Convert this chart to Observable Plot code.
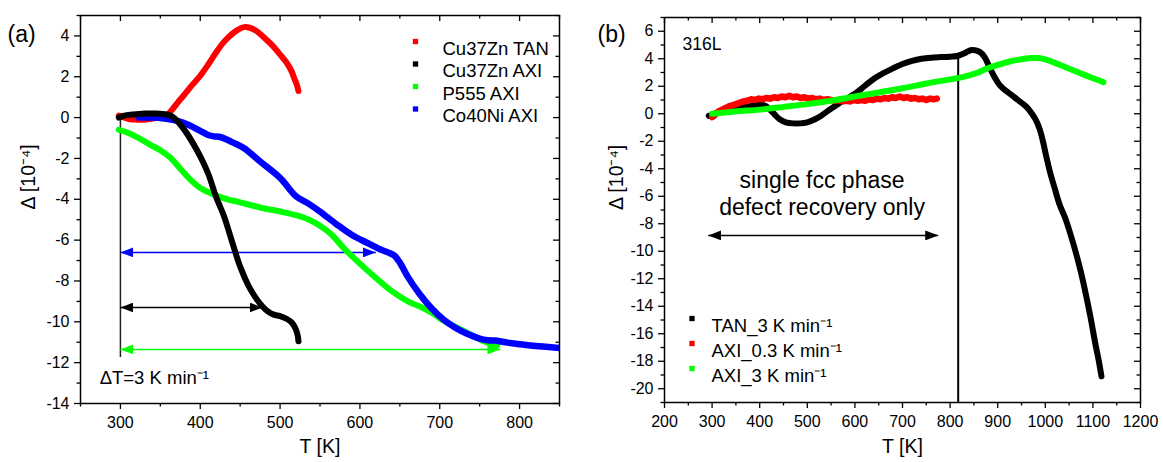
<!DOCTYPE html>
<html><head><meta charset="utf-8">
<script src="https://cdn.jsdelivr.net/npm/d3@7"></script>
<script src="https://cdn.jsdelivr.net/npm/@observablehq/plot@0.6"></script>
<style>
html,body{margin:0;padding:0;background:#fff;}
#wrap{display:flex;width:1163px;height:462px;overflow:hidden;}
#wrap svg{display:block;}
</style></head>
<body><div id="wrap"></div>
<script>
// ---------------- Panel (a) data ----------------
const aRedT = [298, 305, 312, 320, 330, 340, 350, 358, 365, 372, 380, 390, 400, 410, 420, 430, 440, 448, 455, 462, 470, 480, 490, 500, 508, 514, 518, 521, 523];
const aRedV = [0.1, 0.0, -0.08, -0.1, -0.1, -0.05, 0.02, 0.12, 0.4, 0.75, 1.12, 1.6, 2.05, 2.6, 3.2, 3.72, 4.1, 4.32, 4.43, 4.4, 4.25, 3.92, 3.55, 3.08, 2.7, 2.3, 1.9, 1.6, 1.3];

const aBlkT = [298, 305, 315, 330, 345, 358, 365, 372, 380, 390, 400, 410, 420, 430, 440, 450, 460, 470, 478, 485, 492, 500, 508, 515, 519, 522, 523];
const aBlkV = [0.0, 0.1, 0.15, 0.2, 0.2, 0.15, 0.05, -0.2, -0.6, -1.2, -1.9, -2.75, -3.9, -4.85, -6.1, -7.3, -8.2, -8.85, -9.25, -9.5, -9.65, -9.72, -9.85, -10.05, -10.3, -10.65, -10.95];
// faint second run of Cu37Zn AXI (thin line)
const aBlk2T = [362, 370, 378, 386, 395, 404, 413, 420];
const aBlk2V = [0.15, 0.0, -0.3, -0.7, -1.3, -2.0, -2.9, -3.7];

const aGrnT = [298, 310, 322, 337, 350, 363, 375, 388, 400, 413, 430, 450, 475, 500, 520, 535, 550, 565, 580, 600, 620, 640, 660, 675, 690, 705, 720, 735, 750, 762, 772];
const aGrnV = [-0.6, -0.75, -0.98, -1.32, -1.6, -1.98, -2.5, -3.05, -3.45, -3.7, -3.95, -4.15, -4.4, -4.6, -4.78, -4.98, -5.3, -5.75, -6.4, -7.15, -7.85, -8.5, -9.0, -9.25, -9.55, -9.95, -10.25, -10.55, -10.85, -11.05, -11.15];

const aBluT = [323, 340, 355, 370, 385, 400, 410, 417, 425, 440, 455, 475, 500, 520, 535, 550, 570, 590, 610, 625, 635, 643, 650, 660, 675, 690, 705, 720, 735, 750, 760, 770, 785, 800, 820, 850];
const aBluV = [0.0, 0.0, -0.05, -0.15, -0.35, -0.65, -0.85, -0.92, -0.95, -1.2, -1.5, -2.15, -2.95, -3.85, -4.2, -4.6, -5.2, -5.75, -6.15, -6.45, -6.6, -6.75, -7.1, -7.8, -8.65, -9.35, -9.9, -10.3, -10.6, -10.82, -10.9, -10.92, -11.02, -11.1, -11.18, -11.28];

const aLegend = ["Cu37Zn TAN", "Cu37Zn AXI", "P555 AXI", "Co40Ni AXI"];
const aArrows = [
  {x1: 300, x2: 620, y: -6.6, color: "#0000ff"},
  {x1: 300, x2: 478, y: -9.3, color: "#000000"},
  {x1: 300, x2: 776, y: -11.35, color: "#00ff00"}
];
const aVLine = [{T: 300, top: 0.15, bottom: -11.75}];
const aNotes = [{T: 274, V: -12.75, text: "\u0394T=3 K min\u207B\u00B9"}];
const aXMajor = [300, 400, 500, 600, 700, 800];
const aXMinor = [250, 350, 450, 550, 650, 750, 850];
const aYMajor = [4, 2, 0, -2, -4, -6, -8, -10, -12, -14];
const aYMinor = [5, 3, 1, -1, -3, -5, -7, -9, -11, -13];

// ---------------- Panel (b) data ----------------
const bBlkT = [293, 305, 320, 340, 360, 380, 395, 405, 413, 420, 430, 442, 455, 470, 485, 500, 515, 530, 545, 560, 580, 600, 620, 640, 660, 680, 700, 720, 740, 760, 780, 800, 815, 830, 843, 852, 862, 872, 882, 892, 905, 920, 935, 950, 962, 972, 980, 988, 995, 1002, 1010, 1020, 1030, 1042, 1055, 1065, 1075, 1085, 1095, 1105, 1112, 1118];
const bBlkV = [-0.15, 0.0, 0.2, 0.35, 0.45, 0.55, 0.65, 0.65, 0.55, 0.35, 0.0, -0.4, -0.62, -0.7, -0.7, -0.62, -0.42, -0.12, 0.25, 0.6, 1.05, 1.45, 2.0, 2.55, 2.95, 3.3, 3.62, 3.85, 4.0, 4.08, 4.12, 4.15, 4.2, 4.4, 4.62, 4.62, 4.5, 4.15, 3.45, 2.75, 2.05, 1.6, 1.2, 0.8, 0.45, 0.0, -0.45, -1.1, -2.0, -3.1, -4.25, -5.45, -6.6, -7.6, -9.0, -10.2, -11.55, -13.1, -14.8, -16.7, -17.9, -19.1];

const bRedT = [300, 304, 308, 313, 318, 324, 330, 336, 342, 350, 358, 366, 374, 382, 390, 398, 406, 414, 422, 430, 438, 446, 454, 462, 470, 478, 486, 494, 502, 510, 518, 526, 534, 542, 550, 558, 566, 574, 582, 590, 598, 606, 614, 622, 630, 638, 646, 654, 662, 670, 678, 686, 694, 702, 710, 718, 726, 734, 742, 750, 758, 766, 772];
const bRedV = [-0.25, -0.15, 0.0, 0.15, 0.25, 0.35, 0.45, 0.55, 0.6, 0.7, 0.8, 0.9, 0.95, 1.05, 1.0, 1.1, 1.05, 1.15, 1.1, 1.2, 1.15, 1.25, 1.2, 1.3, 1.2, 1.25, 1.15, 1.2, 1.1, 1.15, 1.05, 1.1, 1.0, 1.05, 1.0, 0.95, 1.0, 0.9, 0.95, 0.9, 1.0, 0.95, 1.0, 0.95, 1.05, 1.0, 1.1, 1.05, 1.15, 1.1, 1.2, 1.15, 1.25, 1.15, 1.2, 1.1, 1.15, 1.05, 1.1, 1.0, 1.1, 1.05, 1.1];

const bGrnT = [300, 330, 360, 400, 450, 500, 550, 600, 650, 700, 750, 800, 830, 855, 875, 900, 925, 950, 970, 985, 1000, 1020, 1045, 1070, 1095, 1122];
const bGrnV = [0.0, 0.1, 0.2, 0.3, 0.5, 0.7, 0.95, 1.25, 1.55, 1.85, 2.2, 2.5, 2.7, 2.95, 3.25, 3.55, 3.8, 3.97, 4.05, 4.05, 3.95, 3.7, 3.35, 3.0, 2.65, 2.3];

const bLegend = ["TAN_3 K min\u207B\u00B9", "AXI_0.3 K min\u207B\u00B9", "AXI_3 K min\u207B\u00B9"];
const bArrows = [{x1: 292, x2: 775, y: -8.85, color: "#000000"}];
const bVLine = [{T: 817, top: 4.22, bottom: -21}];
const bNotes = [
  {T: 531, V: -4.86, text: "single fcc phase"},
  {T: 531, V: -6.8, text: "defect recovery only"}
];
const bLabel = [{T: 238, V: 5.08, text: "316L"}];
const bXMajor = [200, 300, 400, 500, 600, 700, 800, 900, 1000, 1100, 1200];
const bXMinor = [250, 350, 450, 550, 650, 750, 850, 950, 1050, 1150];
const bYMajor = [6, 4, 2, 0, -2, -4, -6, -8, -10, -12, -14, -16, -18, -20];
const bYMinor = [7, 5, 3, 1, -1, -3, -5, -7, -9, -11, -13, -15, -17, -19, -21];

// ---------------- helpers ----------------
const FONT = '"Liberation Sans", Arial, Helvetica, sans-serif';
const RED = "#ff0000", BLACK = "#000000", GREEN = "#00ff00", BLUE = "#0000ff";
const rows = (T, V) => T.map((t, i) => ({T: t, V: V[i]}));

function filledHead(color) {
  const m = d3.create("svg:marker")
    .attr("viewBox", "-13 -5 13 10")
    .attr("markerWidth", 13).attr("markerHeight", 10)
    .attr("markerUnits", "userSpaceOnUse")
    .attr("orient", "auto-start-reverse")
    .attr("fill", color).attr("stroke", "none");
  m.append("path").attr("d", "M0,0L-13,-5L-13,5Z");
  return m.node();
}

function frameMarks(cfg) {
  const fw = cfg.width - cfg.mL - cfg.mR, fh = cfg.height - cfg.mT - cfg.mB;
  const tk = {stroke: "#000", strokeWidth: 1.3};
  return [
    Plot.axisX({ticks: cfg.xMajor, tickSize: 6, tickPadding: 7, tickFormat: d => String(d), label: null, fontSize: 16, strokeWidth: 1.3}),
    Plot.axisX({ticks: cfg.xMinor, tickSize: 3.5, tickFormat: () => "", label: null, strokeWidth: 1.3}),
    Plot.axisY({ticks: cfg.yMajor, tickSize: 6, tickPadding: 5, tickFormat: d => String(d), label: null, fontSize: 16, strokeWidth: 1.3}),
    Plot.axisY({ticks: cfg.yMinor, tickSize: 3.5, tickFormat: () => "", label: null, strokeWidth: 1.3}),
    Plot.tickX(cfg.xMajor, {x: d => d, insetBottom: fh - 6, ...tk}),
    Plot.tickX(cfg.xMinor, {x: d => d, insetBottom: fh - 3.5, ...tk}),
    Plot.tickY(cfg.yMajor, {y: d => d, insetLeft: fw - 6, ...tk}),
    Plot.tickY(cfg.yMinor, {y: d => d, insetLeft: fw - 3.5, ...tk}),
    Plot.frame({stroke: "#000", strokeWidth: 1.5}),
    Plot.text(["T [K]"], {frameAnchor: "bottom", dy: cfg.xTitleDy, fontSize: 19.5, fill: "#000"}),
    Plot.text(["\u0394 [10\u207B\u2074]"], {frameAnchor: "left", dx: cfg.yTitleDx, rotate: -90, fontSize: 19.5, fill: "#000"}),
    Plot.text([cfg.tag], {frameAnchor: "top-left", dx: cfg.tagDx, dy: cfg.tagDy, textAnchor: "start", fontSize: 23, fill: "#000"})
  ];
}

function legendMarks(labels, colors, cfg) {
  const out = [];
  labels.forEach((lab, i) => {
    out.push(Plot.dot([lab], {frameAnchor: "top-left", dx: cfg.mx, dy: cfg.y0 + i * cfg.step, symbol: "square", r: 3, fill: colors[i], stroke: "none"}));
    out.push(Plot.text([lab], {frameAnchor: "top-left", dx: cfg.tx, dy: cfg.y0 + i * cfg.step, text: d => d, textAnchor: "start", fontSize: 18.5, fill: "#000"}));
  });
  return out;
}

function arrowMarks(arrows, marker) {
  return arrows.map(a => Plot.link([a], {x1: "x1", x2: "x2", y1: "y", y2: "y", stroke: a.color, strokeWidth: 1.5,
    markerStart: marker === "custom" ? filledHead : "arrow", markerEnd: marker === "custom" ? filledHead : "arrow"}));
}

function buildA(marker) {
  const cfg = {width: 580, height: 462, mL: 80, mR: 21, mT: 15, mB: 59,
    xMajor: aXMajor, xMinor: aXMinor, yMajor: aYMajor, yMinor: aYMinor,
    xTitleDy: 49, yTitleDx: -52, tag: "(a)", tagDx: -73, tagDy: 10};
  const ln = {x: "T", y: "V", strokeWidth: 6, curve: "catmull-rom", clip: true};
  return Plot.plot({
    width: cfg.width, height: cfg.height,
    marginLeft: cfg.mL, marginRight: cfg.mR, marginTop: cfg.mT, marginBottom: cfg.mB,
    x: {domain: [250, 850], label: null},
    y: {domain: [-14, 5], label: null},
    style: {fontFamily: FONT, fontSize: "16px", color: "#000", background: "#fff", overflow: "visible"},
    marks: [
      Plot.ruleX(aVLine, {x: "T", y1: "top", y2: "bottom", stroke: "#222", strokeWidth: 1.5}),
      ...arrowMarks(aArrows, marker),
      Plot.line(rows(aRedT, aRedV), {...ln, stroke: RED}),
      Plot.line(rows(aGrnT, aGrnV), {...ln, stroke: GREEN}),
      Plot.line(rows(aBluT, aBluV), {...ln, stroke: BLUE, strokeWidth: 6.5}),
      Plot.line(rows(aBlk2T, aBlk2V), {x: "T", y: "V", stroke: "#333", strokeWidth: 1, curve: "catmull-rom"}),
      Plot.line(rows(aBlkT, aBlkV), {...ln, stroke: BLACK}),
      Plot.text(aNotes, {x: "T", y: "V", text: "text", textAnchor: "start", fontSize: 18.5, fill: "#000"}),
      ...legendMarks(aLegend, [RED, BLACK, GREEN, BLUE], {mx: 335, tx: 362, y0: 26, step: 22.5}),
      ...frameMarks(cfg)
    ]
  });
}

function buildB(marker) {
  const cfg = {width: 583, height: 462, mL: 84, mR: 23, mT: 17, mB: 60,
    xMajor: bXMajor, xMinor: bXMinor, yMajor: bYMajor, yMinor: bYMinor,
    xTitleDy: 50, yTitleDx: -48, tag: "(b)", tagDx: -67, tagDy: 8};
  const ln = {x: "T", y: "V", strokeWidth: 6, curve: "catmull-rom", clip: true};
  return Plot.plot({
    width: cfg.width, height: cfg.height,
    marginLeft: cfg.mL, marginRight: cfg.mR, marginTop: cfg.mT, marginBottom: cfg.mB,
    x: {domain: [200, 1200], label: null},
    y: {domain: [-21, 7], label: null},
    style: {fontFamily: FONT, fontSize: "16px", color: "#000", background: "#fff", overflow: "visible"},
    marks: [
      Plot.ruleX(bVLine, {x: "T", y1: "top", y2: "bottom", stroke: "#000", strokeWidth: 2}),
      ...arrowMarks(bArrows, marker),
      Plot.line(rows(bBlkT, bBlkV), {...ln, stroke: BLACK}),
      Plot.line(rows(bRedT, bRedV), {...ln, curve: "linear", stroke: RED, strokeWidth: 6.5}),
      Plot.line(rows(bGrnT, bGrnV), {...ln, stroke: GREEN}),
      Plot.text(bNotes, {x: "T", y: "V", text: "text", textAnchor: "middle", fontSize: 23, fill: "#000"}),
      Plot.text(bLabel, {x: "T", y: "V", text: "text", textAnchor: "start", fontSize: 17.5, fill: "#000"}),
      ...legendMarks(bLegend, [BLACK, RED, GREEN], {mx: 27.5, tx: 47, y0: 301, step: 25}),
      ...frameMarks(cfg)
    ]
  });
}

const wrap = document.getElementById("wrap");
let svgA, svgB;
try { svgA = buildA("custom"); } catch (e) { console.error(e); svgA = buildA("arrow"); }
try { svgB = buildB("custom"); } catch (e) { console.error(e); svgB = buildB("arrow"); }
wrap.appendChild(svgA);
wrap.appendChild(svgB);
</script>
</body></html>
